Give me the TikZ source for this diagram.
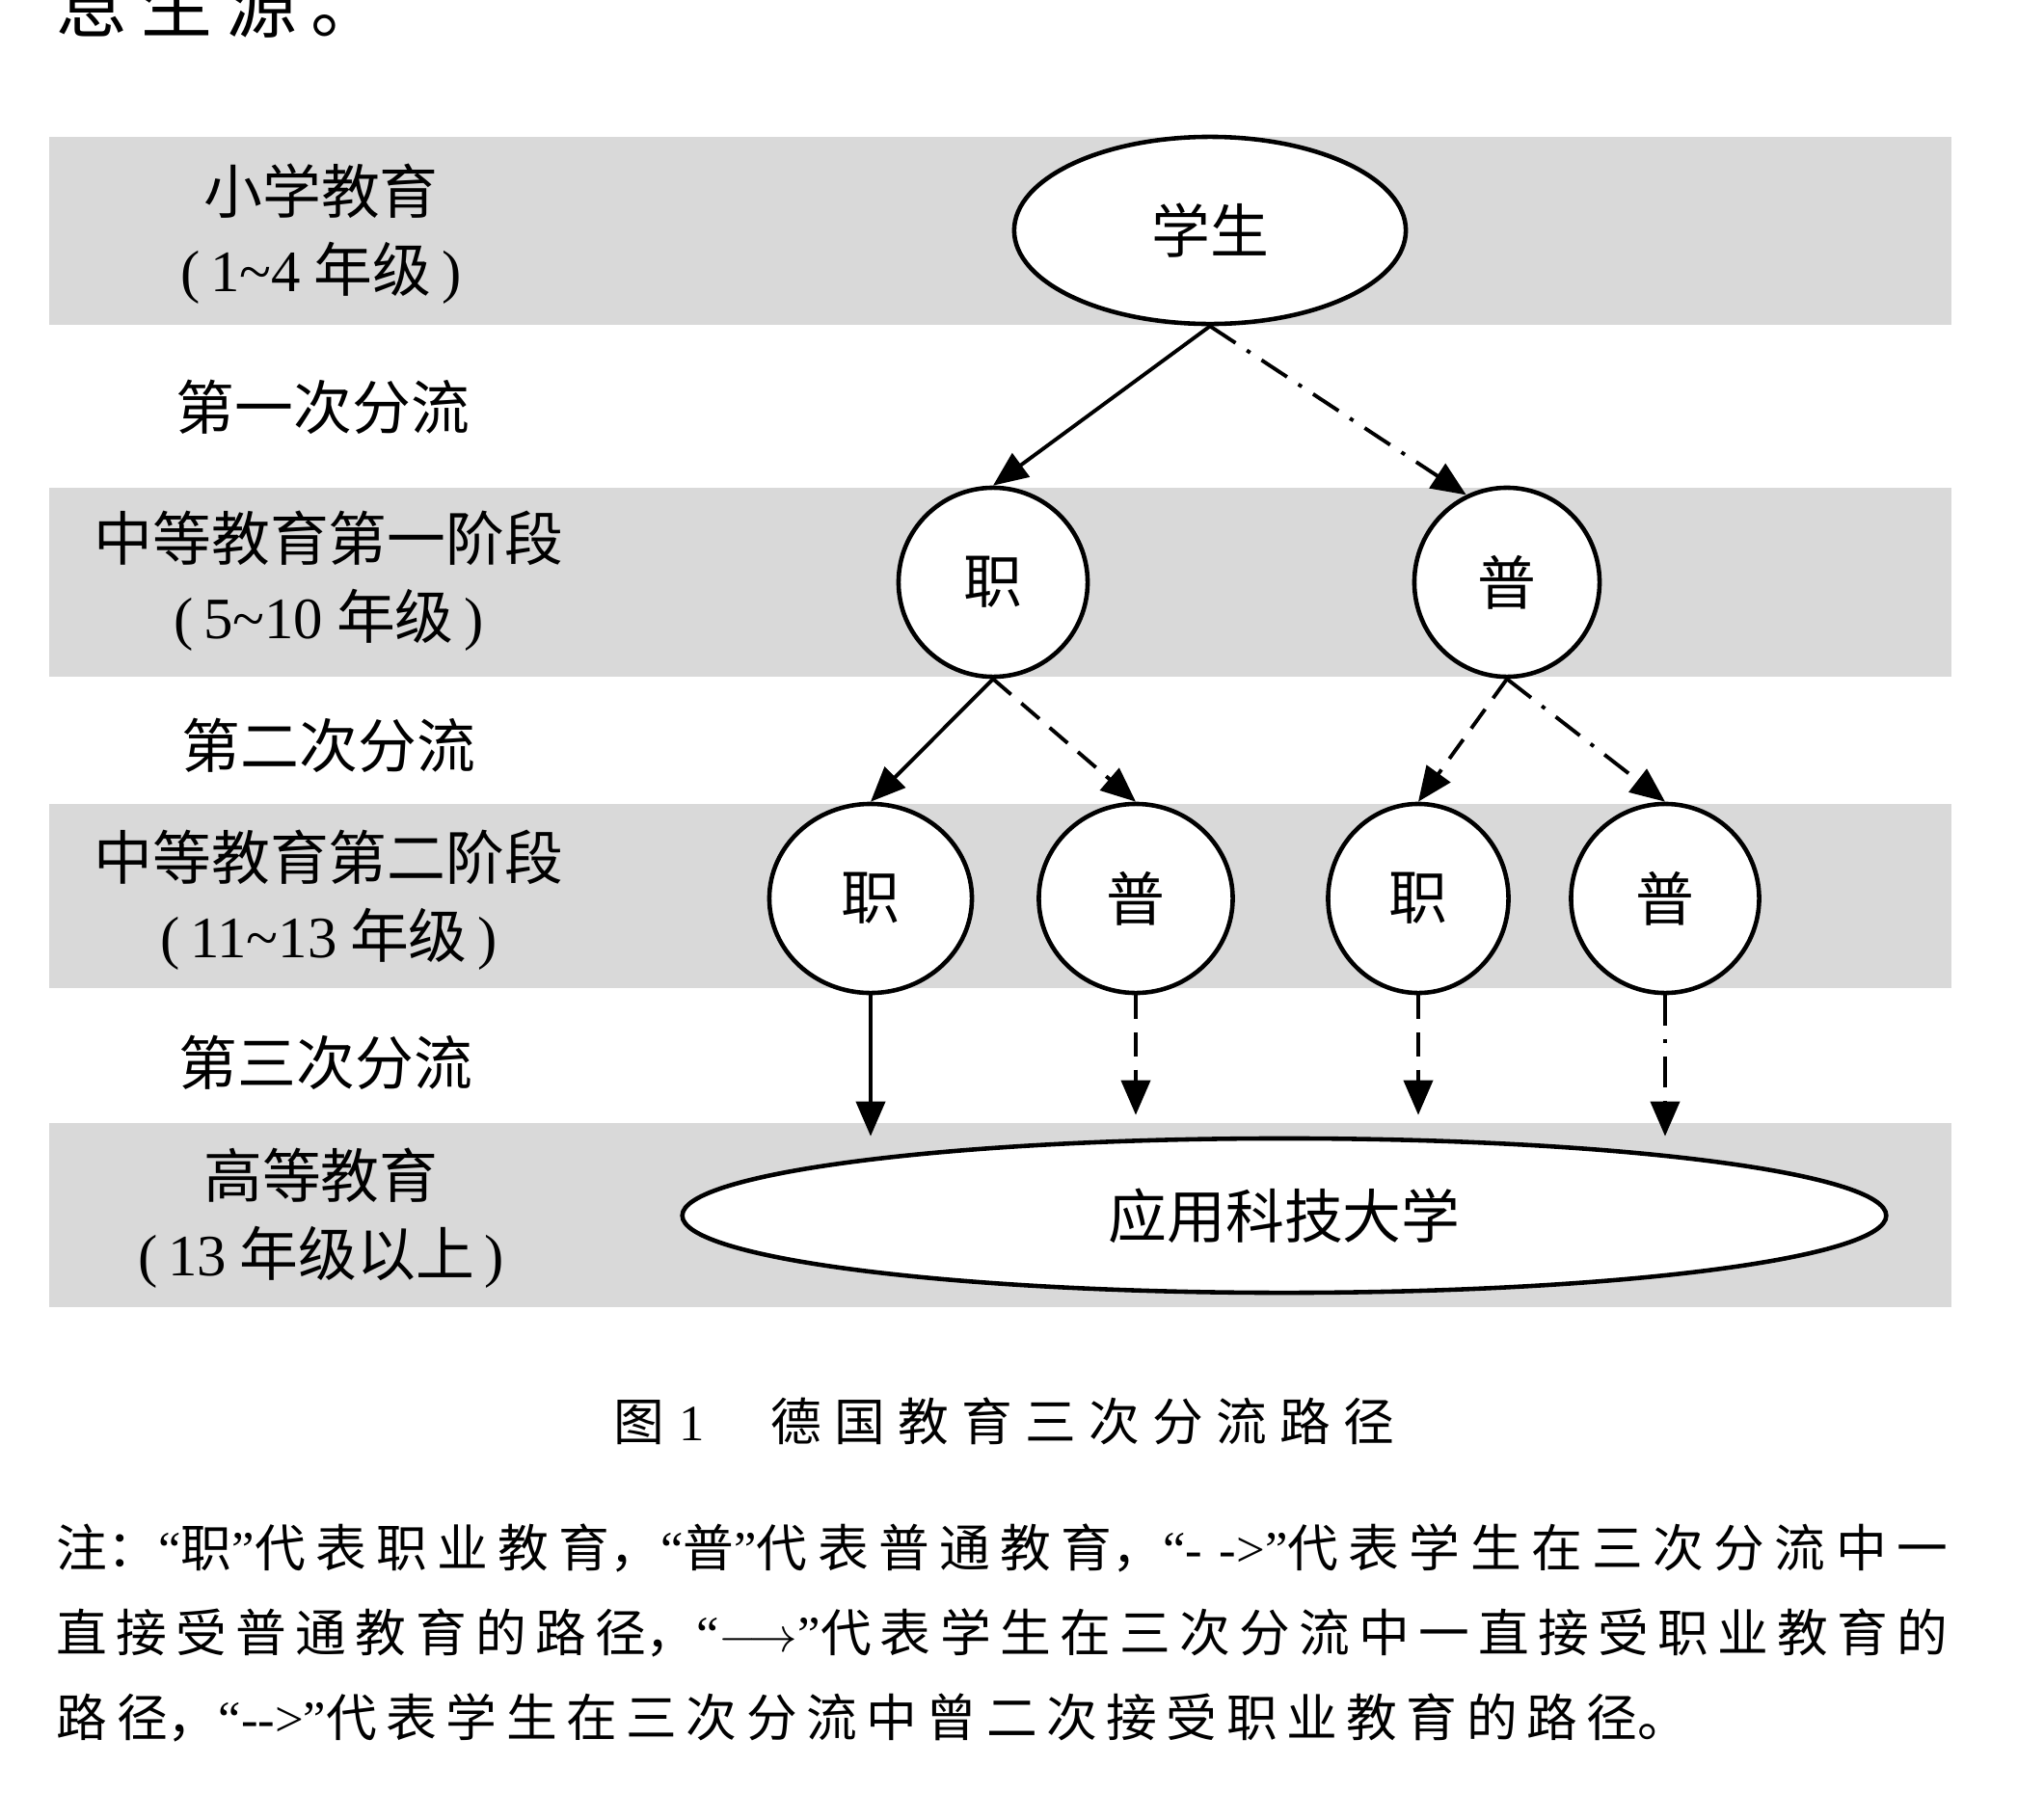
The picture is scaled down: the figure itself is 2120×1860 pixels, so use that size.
\documentclass[tikz,border=0pt]{standalone}
\usepackage{fontspec}
\setmainfont{Noto Sans CJK SC}
\newfontfamily\lat{Liberation Serif}
\usetikzlibrary{arrows.meta,shapes.geometric,positioning}
\XeTeXlinebreaklocale "zh"
\XeTeXlinebreakskip=0pt
\definecolor{bandgray}{RGB}{217,217,217}
\newcommand\prevfont{\fontsize{21pt}{24pt}\selectfont\addfontfeature{LetterSpace=19}}
\newcommand\capfont{\fontsize{15pt}{18pt}\selectfont\addfontfeature{LetterSpace=25}}
\newcommand\notefont{\fontsize{15pt}{18pt}\selectfont\XeTeXlinebreakskip=1.2pt plus 4pt\relax}
\newcommand\fullline{\leftskip=0pt\rightskip=0pt\parfillskip=0pt\noindent}
\newcommand\gradetext[2]{{\lat(\kern3pt#1} #2{\lat\kern3pt)}}
\begin{document}
\begin{tikzpicture}[x=0.01cm, y=-0.01cm, line width=1.1pt, font=\fontsize{17.3pt}{23pt}\selectfont,
  >={Triangle[length=0.36cm, width=0.3cm]},
  stage/.style={align=center, inner sep=0pt},
  ring/.style={ellipse, draw, fill=white, inner sep=0pt, line width=1.3pt, minimum height=1.96cm, minimum width=#1},
  ring/.default=1.96cm,
  oval/.style={ellipse, draw, fill=white, inner sep=0pt, line width=1.3pt},
  dashdot/.style={dash pattern=on 9pt off 4pt on 1.2pt off 4pt},
  dashline/.style={dash pattern=on 7pt off 4pt},
  noteline/.style={anchor=west, inner sep=0pt, text width=19.6cm, font=\notefont}]
  \useasboundingbox (0,0) rectangle (2120,1860);
  \fill[white] (0,0) rectangle (2120,1860);
  \node[anchor=base west, inner sep=0pt, font=\prevfont] (prev) at (57,33) {息生源。};
  \foreach \t/\b in {142/337, 506/702, 834/1025, 1165/1356}
    \fill[bandgray] (51,\t) rectangle (2024,\b);
  % stages on the left
  \node[stage] (s1) at (333,243) {小学教育\\\gradetext{1\textasciitilde4}{年级}};
  \node[stage] (f1) at (335,422) {第一次分流};
  \node[stage] (s2) at (341,603) {中等教育第一阶段\\\gradetext{5\textasciitilde10}{年级}};
  \node[stage] (f2) at (341,773) {第二次分流};
  \node[stage] (s3) at (341,934) {中等教育第二阶段\\\gradetext{11\textasciitilde13}{年级}};
  \node[stage] (f3) at (338,1102) {第三次分流};
  \node[stage] (s4) at (333,1264) {高等教育\\\gradetext{13}{年级以上}};
  % tree
  \node[oval, minimum width=4.06cm, minimum height=1.94cm] (stu) at (1255,239) {学生};
  \node[ring] (zhiA) at (1030,604) {职};
  \node[ring=1.92cm] (puA) at (1563,604) {普};
  \node[ring=2.1cm] (zhiB) at (903,932) {职};
  \node[ring=2.01cm] (puB) at (1178,932) {普};
  \node[ring=1.87cm] (zhiC) at (1471,932) {职};
  \node[ring=1.95cm] (puC) at (1727,932) {普};
  \node[oval, minimum width=12.48cm, minimum height=1.6cm] (uni) at (1332,1261) {应用科技大学};
  \draw[->] (stu.south) -- (zhiA.north);
  \draw[->, dashdot] (stu.south) -- (puA.115);
  \draw[->] (zhiA.south) -- (zhiB.north);
  \draw[->, dashline] (zhiA.south) -- (puB.north);
  \draw[->, dashline] (puA.south) -- (zhiC.north);
  \draw[->, dashdot] (puA.south) -- (puC.north);
  \draw[->] (zhiB.south) -- (zhiB.south |- uni.north);
  \draw[->, dashline, shorten >=0.22cm] (puB.south) -- (puB.south |- uni.north);
  \draw[->, dashline, shorten >=0.22cm] (zhiC.south) -- (zhiC.south |- uni.north);
  \draw[->, dashdot] (puC.south) -- (puC.south |- uni.north);
  % caption and note
  \node[font=\capfont] (cap) at (1041,1474)
    {图\hspace{0.3em}{\lat 1}\hspace{1.3em}德国教育三次分流路径};
  \node[noteline] (n1) at (57,1606) {{\fullline 注：{\lat“}职{\lat”}代表职业教育，{\lat“}普{\lat”}代表普通教育，{\lat“- ->”}代表学生在三次分流中一\par}};
  \node[noteline] (n2) at (57,1694) {{\fullline 直接受普通教育的路径，{\lat“}$\longrightarrow${\lat”}代表学生在三次分流中一直接受职业教育的\par}};
  \node[noteline] (n3) at (57,1782) {{\noindent\XeTeXlinebreakskip=2.7pt\relax 路径，{\lat“{-}{-}>”}代表学生在三次分流中曾二次接受职业教育的路径。\par}};
\end{tikzpicture}
\end{document}
